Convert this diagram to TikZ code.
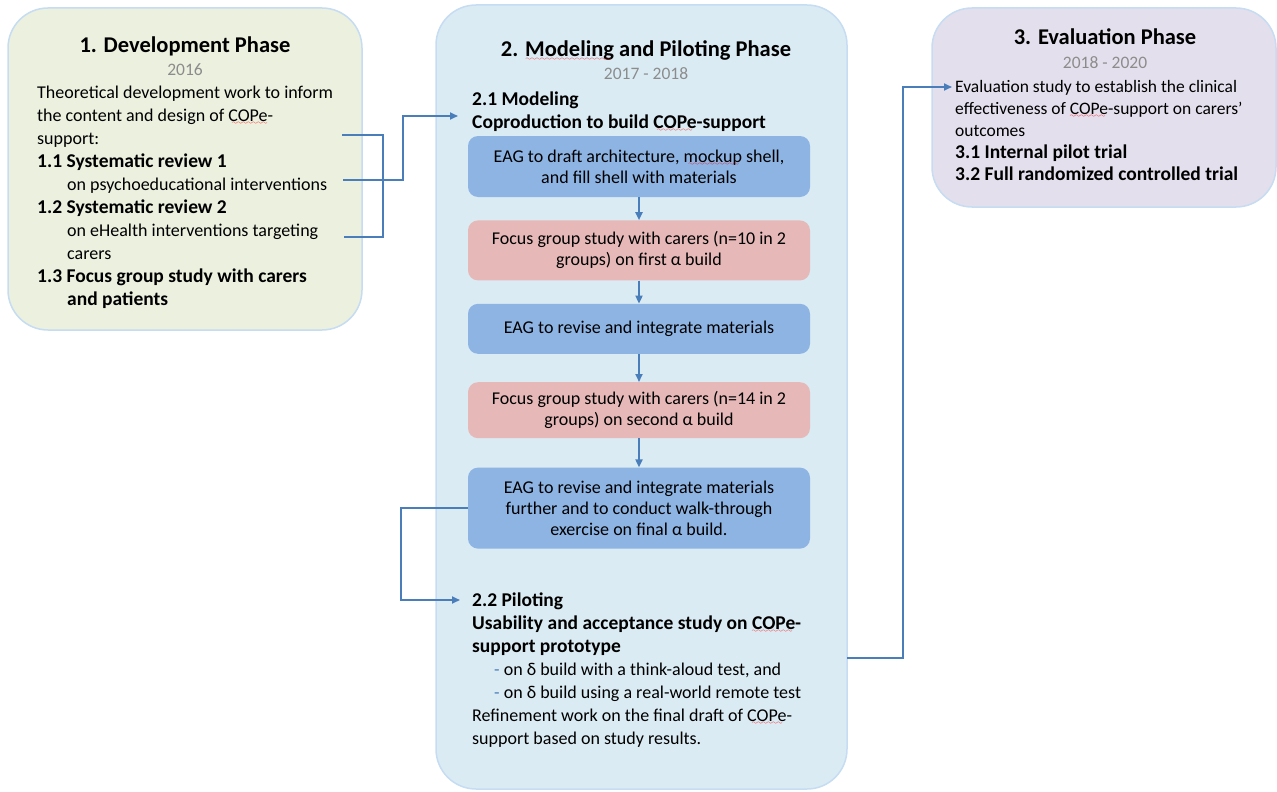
\documentclass[tikz,border=0pt]{standalone}
\usepackage{fontspec}
\setmainfont{Carlito}
\usetikzlibrary{positioning,arrows.meta,calc}

\definecolor{devfill}{HTML}{EBF0DF}
\definecolor{modfill}{HTML}{DAEBF3}
\definecolor{evafill}{HTML}{E4DFEC}
\definecolor{phaseedge}{HTML}{C6DCF2}
\definecolor{stepblue}{HTML}{8EB4E3}
\definecolor{steppink}{HTML}{E6B9B8}
\definecolor{flowline}{HTML}{4A7EBB}
\definecolor{yeargray}{HTML}{8C8C8C}

% red spell-check wave under a word
\font\spellwave=lasy6
\newcommand\spellmark[1]{\setbox0\hbox{#1}\rlap{\copy0}%
  \leaders\hbox{\textcolor{red}{\lower3.5pt\hbox{\spellwave\char58}}}\hskip\wd0\relax}
\newcommand\hd[1]{{\fontsize{19.5}{23}\selectfont\bfseries #1}}

\tikzset{
     phase/.style={rectangle, draw=phaseedge, line width=1.5pt, rounded corners=40pt, inner sep=0pt},
     stepbox/.style={rectangle, rounded corners=10pt, minimum width=342pt, align=center,
                     inner sep=4pt, font=\fontsize{18}{21}\selectfont},
     title/.style={anchor=base, font=\fontsize{22.5}{26}\selectfont\bfseries},
     year/.style={anchor=base, text=yeargray, font=\fontsize{17.5}{20}\selectfont},
     body/.style={anchor=base west, align=left, inner sep=0pt, font=\fontsize{18}{23}\selectfont},
     link/.style={draw=flowline, line width=1.8pt},
     flow/.style={link, -{Triangle[length=8pt,width=7pt]}}
     }

\begin{document}
\begin{tikzpicture}[x=1pt,y=1pt]
\useasboundingbox (0,0) rectangle (1277,-792);

% the three phases
\node[phase, fill=devfill, minimum width=354pt, minimum height=322pt] (dev) at (185,-169) {};
\node[phase, fill=modfill, minimum width=411pt, minimum height=784pt] (mod) at (641.5,-397) {};
\node[phase, fill=evafill, minimum width=344pt, minimum height=199pt] (eva) at (1104,-107.5) {};

% base west sits on the last line of each text
\node[title] (devtitle) at (185,-53) {1. Development Phase};
\node[year] (devyear) at (185,-76) {2016};
\node[body] (devtext) at (37,-305) {Theoretical development work to inform\\
the content and design of \spellmark{COPe}-\\
support:\\
\hd{1.1 Systematic review 1}\\
\hspace*{30pt}on psychoeducational interventions\\
\hd{1.2 Systematic review 2}\\
\hspace*{30pt}on eHealth interventions targeting\\
\hspace*{30pt}carers\\
\hd{1.3 Focus group study with carers}\\
\hspace*{30pt}\hd{and patients}};

\node[title] (modtitle) at (646,-57) {2. \spellmark{Modeling} and Piloting Phase};
\node[year] (modyear) at (646,-80) {2017 - 2018};
\node[body] (modeling) at (472,-128) {\hd{2.1 \spellmark{Modeling}}\\
\hd{Coproduction to build \spellmark{COPe}-support}};

\node[stepbox, fill=stepblue, minimum height=61pt] (draft) at (639,-166.5)
  {EAG to draft architecture, \spellmark{mockup} shell,\\and fill shell with materials};
\node[stepbox, fill=steppink, minimum height=60pt, below=23pt of draft] (focusone)
  {Focus group study with carers (n=10 in 2\\groups) on first α build};
\node[stepbox, fill=stepblue, minimum height=50pt, below=23pt of focusone] (revise)
  {EAG to revise and integrate materials};
\node[stepbox, fill=steppink, minimum height=56pt, below=28pt of revise] (focustwo)
  {Focus group study with carers (n=14 in 2\\groups) on second α build};
\node[stepbox, fill=stepblue, minimum height=81pt, below=29pt of focustwo] (walk)
  {EAG to revise and integrate materials\\further and to conduct walk-through\\exercise on final α build.};

\node[body] (piloting) at (472,-744) {\hd{2.2 Piloting}\\
\hd{Usability and acceptance study on \spellmark{COPe}-}\\
\hd{support prototype}\\
\hspace*{22pt}\textcolor{flowline}{-} on δ build with a think-aloud test, and\\
\hspace*{22pt}\textcolor{flowline}{-} on δ build using a real-world remote test\\
Refinement work on the final draft of \spellmark{COPe}-\\
support based on study results.};

\node[title] (evatitle) at (1105,-45) {3. Evaluation Phase};
\node[year] (evayear) at (1105,-68) {2018 - 2020};
\node[body, font=\fontsize{17.5}{22}\selectfont] (evatext) at (955,-180) {Evaluation study to establish the clinical\\
effectiveness of \spellmark{COPe}-support on carers’\\
outcomes\\
\hd{3.1 Internal pilot trial}\\
\hd{3.2 Full randomized controlled trial}};

% free ends of the connectors
\coordinate (review) at (342,-135);
\coordinate (psycho) at (343,-180);
\coordinate (ehealth) at (344,-237);
\coordinate (into21) at (458,-116);
\coordinate (into22) at (460,-600);
\coordinate (out22) at (847,-658);
\coordinate (into3) at (952,-87);

%Lines
\draw[link] (review) -- ++(41,0) |- (ehealth);
\draw[flow] (psycho) -- ++(60,0) |- (into21);

\draw[flow] (draft) -- (focusone);
\draw[flow] (focusone) -- (revise);
\draw[flow] (revise) -- (focustwo);
\draw[flow] (focustwo) -- (walk);

\draw[flow] (walk.west) -- ++(-67,0) |- (into22);
\draw[flow] (out22) -- ++(56,0) |- (into3);
\end{tikzpicture}
\end{document}
